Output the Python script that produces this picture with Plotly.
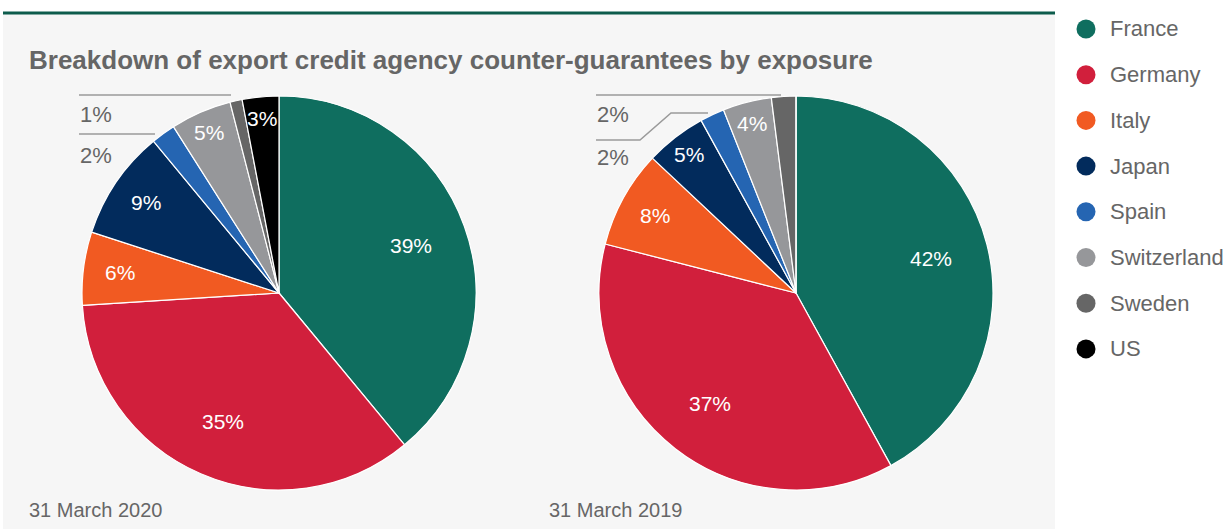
import math
import plotly.graph_objects as go

W, H = 1230, 529

countries = ["France", "Germany", "Italy", "Japan", "Spain", "Switzerland", "Sweden", "US"]
colors = ["#0f6e5f", "#d11f3c", "#f15a22", "#022b5c", "#2565b2", "#96979a", "#666666", "#000000"]
values_2020 = [39, 35, 6, 9, 2, 5, 1, 3]
values_2019 = [42, 37, 8, 5, 2, 4, 2, 0]
period_labels = ["31 March 2020", "31 March 2019"]
title_text = "Breakdown of export credit agency counter-guarantees by exposure"
MIN_INSIDE = 3  # slices below this get outside labels


def px(x):
    return x / W


def py(y):
    return 1 - y / H


def label_radius(v):
    # fraction of radius where inside labels sit (smaller slices pushed outward)
    if v >= 30:
        return 0.71
    if v >= 6:
        return 0.815
    return 0.89


grey = "#666666"
font_main = "Liberation Sans, Arial, sans-serif"

fig = go.Figure()
shapes = []
annotations = []

# grey panel and top rule
shapes.append(dict(type="rect", xref="paper", yref="paper", x0=px(3), x1=px(1055), y0=0, y1=py(14),
                   fillcolor="#f6f6f6", line=dict(width=0), layer="below"))
shapes.append(dict(type="line", xref="paper", yref="paper", x0=px(3), x1=px(1055), y0=py(13), y1=py(13),
                   line=dict(color="#0d5c4c", width=3)))

pie_boxes = [(82, 476, 96, 490), (599, 993, 96, 490)]
for vals, (x0, x1, y0, y1) in zip([values_2020, values_2019], pie_boxes):
    fig.add_trace(go.Pie(
        labels=countries,
        values=vals,
        textinfo="none",
        marker=dict(colors=colors, line=dict(color="white", width=1.2)),
        sort=False,
        direction="clockwise",
        rotation=0,
        hoverinfo="skip",
        showlegend=False,
        domain=dict(x=[px(x0), px(x1)], y=[py(y1), py(y0)]),
    ))
    # inside labels placed at mid-angle of each slice
    cx, cy = (x0 + x1) / 2, (y0 + y1) / 2
    R = min(x1 - x0, y1 - y0) / 2
    total = sum(vals)
    cum = 0
    for v in vals:
        mid = (cum + v / 2) / total * 2 * math.pi
        cum += v
        if v < MIN_INSIDE:
            continue
        rr = R * label_radius(v)
        lx = cx + rr * math.sin(mid)
        ly = cy - rr * math.cos(mid)
        annotations.append(dict(text=f"{v}%", xref="paper", yref="paper", x=px(lx), y=py(ly),
                                xanchor="center", yanchor="middle", showarrow=False,
                                font=dict(family=font_main, size=21, color="white")))

annotations.append(dict(text=f"<b>{title_text}</b>", xref="paper", yref="paper", x=px(27), y=py(60),
                        xanchor="left", yanchor="middle", showarrow=False,
                        font=dict(family=font_main, size=26, color=grey)))

for lab, x in zip(period_labels, [27, 547]):
    annotations.append(dict(text=lab, xref="paper", yref="paper", x=px(x), y=py(510),
                            xanchor="left", yanchor="middle", showarrow=False,
                            font=dict(family=font_main, size=20, color=grey)))

# outside labels for small slices with leader lines
line_style = dict(color="#9a9a9a", width=1.5)
outside_left = [(values_2020[6], 114, [(79, 95), (231, 95)]),
                (values_2020[4], 155, [(79, 134), (155, 134)])]
outside_right = [(values_2019[6], 114, [(596, 95), (781, 95)]),
                 (values_2019[4], 158, [(596, 140), (640, 140), (671, 113), (708, 113)])]
for items, lx in [(outside_left, 78), (outside_right, 595)]:
    for v, ly, pts in items:
        annotations.append(dict(text=f"{v}%", xref="paper", yref="paper", x=px(lx), y=py(ly),
                                xanchor="left", yanchor="middle", showarrow=False,
                                font=dict(family=font_main, size=22, color=grey)))
        path = "M " + " L ".join(f"{px(a):.5f},{py(b):.5f}" for a, b in pts)
        shapes.append(dict(type="path", xref="paper", yref="paper", path=path, line=line_style))

# legend
for i, (c, col) in enumerate(zip(countries, colors)):
    yc = 29 + i * 45.7
    r = 9.5
    shapes.append(dict(type="circle", xref="paper", yref="paper",
                       x0=px(1086 - r), x1=px(1086 + r), y0=py(yc + r), y1=py(yc - r),
                       fillcolor=col, line=dict(width=0)))
    annotations.append(dict(text=c, xref="paper", yref="paper", x=px(1108), y=py(yc),
                            xanchor="left", yanchor="middle", showarrow=False,
                            font=dict(family=font_main, size=22, color=grey)))

fig.update_layout(
    width=W, height=H,
    margin=dict(l=0, r=0, t=0, b=0),
    paper_bgcolor="white",
    plot_bgcolor="white",
    shapes=shapes,
    annotations=annotations,
)

fig.write_html("out.html", config={"displayModeBar": False},
               post_script="document.body.style.margin='0px';")
